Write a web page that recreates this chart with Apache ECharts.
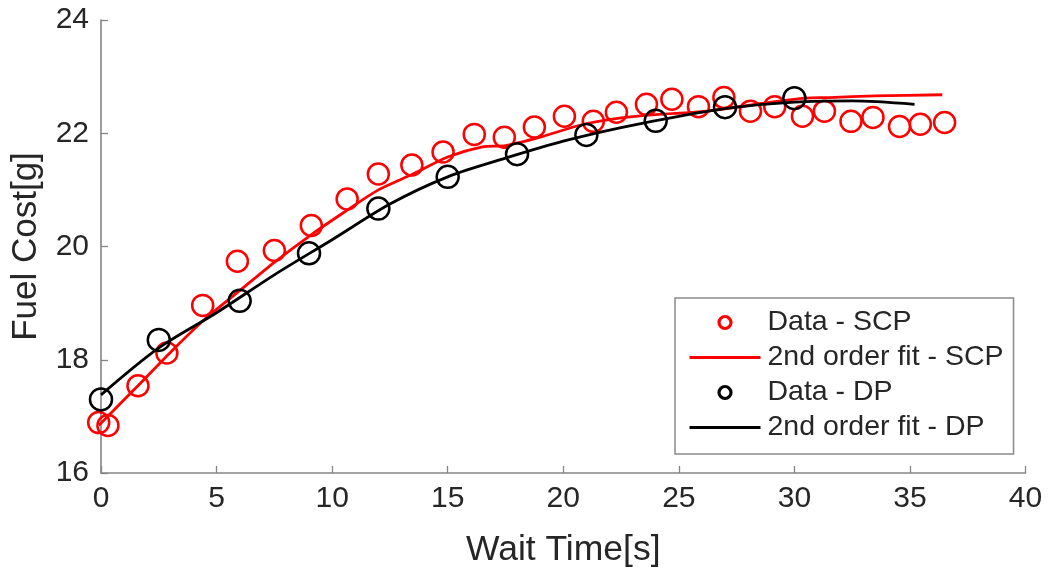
<!DOCTYPE html>
<html>
<head>
<meta charset="utf-8">
<script src="https://cdn.jsdelivr.net/npm/echarts@6/dist/echarts.min.js"></script>
<style>html,body{margin:0;padding:0;background:#fff;}#c{width:1049px;height:573px;}</style>
</head>
<body>
<div id="c"></div>
<script>
// Data - SCP (scatter)
var scpX = [-0.1, 0.3, 1.6, 2.85, 4.4, 5.9, 7.5, 9.1, 10.65, 12.0, 13.45, 14.8, 16.15, 17.45, 18.75, 20.05, 21.3, 22.3, 23.6, 24.7, 25.85, 26.95, 28.1, 29.15, 30.35, 31.3, 32.45, 33.4, 34.55, 35.45, 36.5];
var scpY = [16.89, 16.84, 17.54, 18.12, 18.96, 19.74, 19.93, 20.37, 20.84, 21.28, 21.44, 21.67, 21.98, 21.93, 22.11, 22.30, 22.21, 22.37, 22.51, 22.60, 22.47, 22.63, 22.39, 22.47, 22.30, 22.39, 22.21, 22.28, 22.12, 22.16, 22.19];
// 2nd order fit - SCP (line)
var scpFitX = [-0.1, 1.5, 3, 4.5, 6, 7.5, 9, 10.5, 12, 13.5, 15, 16.5, 17.5, 19, 20.8, 22.5, 24, 26, 27.5, 29, 30.5, 31.5, 33.5, 36.4];
var scpFitY = [16.84, 17.50, 18.13, 18.72, 19.22, 19.72, 20.18, 20.60, 21.00, 21.28, 21.58, 21.76, 21.78, 21.93, 22.15, 22.27, 22.33, 22.38, 22.46, 22.55, 22.62, 22.63, 22.66, 22.68];
// Data - DP (scatter)
var dpX = [0, 2.5, 6, 9, 12, 15, 18, 21, 24, 27, 30];
var dpY = [17.30, 18.35, 19.04, 19.88, 20.67, 21.23, 21.63, 21.97, 22.22, 22.46, 22.62];
// 2nd order fit - DP (line)
var dpFitX = [0, 2.5, 5, 7.5, 10, 12.5, 15, 17.5, 20, 22.5, 25, 27.5, 30, 32.5, 35.2];
var dpFitY = [17.38, 18.21, 18.83, 19.50, 20.12, 20.75, 21.23, 21.56, 21.86, 22.10, 22.30, 22.46, 22.55, 22.57, 22.51];

var seriesNames = ['Data - SCP', '2nd order fit - SCP', 'Data - DP', '2nd order fit - DP'];

function zip(xs, ys) { return xs.map(function (x, i) { return [x, ys[i]]; }); }

var FONT = 'Liberation Sans, Arial, Helvetica, sans-serif';
var TXT = '#262626';
var AX = '#858585';

var chart = echarts.init(document.getElementById('c'), null, { renderer: 'canvas' });
chart.setOption({
  backgroundColor: '#ffffff',
  animation: false,
  grid: { left: 101, right: 23.5, top: 20, bottom: 99, containLabel: false },
  xAxis: {
    type: 'value', min: 0, max: 40, interval: 5,
    name: 'Wait Time[s]', nameLocation: 'middle', nameGap: 59,
    nameTextStyle: { fontSize: 35.5, color: TXT, fontFamily: FONT },
    axisLine: { show: true, lineStyle: { color: AX, width: 1.6 } },
    axisTick: { show: true, inside: true, length: 7, lineStyle: { color: AX, width: 1.3 } },
    axisLabel: { fontSize: 30, color: TXT, fontFamily: FONT, margin: 11 },
    splitLine: { show: false }
  },
  yAxis: {
    type: 'value', min: 16, max: 24, interval: 2,
    name: 'Fuel Cost[g]', nameLocation: 'middle', nameGap: 57,
    nameTextStyle: { fontSize: 35, color: TXT, fontFamily: FONT },
    axisLine: { show: true, lineStyle: { color: AX, width: 1.6 } },
    axisTick: { show: true, inside: true, length: 7, lineStyle: { color: AX, width: 1.3 } },
    axisLabel: { fontSize: 30, color: TXT, fontFamily: FONT, margin: 12 },
    splitLine: { show: false }
  },
  legend: {
    orient: 'vertical', left: 675, top: 298,
    padding: [10, 10, 12, 13],
    backgroundColor: '#ffffff',
    borderColor: '#8a8a8a', borderWidth: 1.5, borderRadius: 0,
    itemWidth: 71, itemHeight: 12, itemGap: 6,
    textStyle: { fontSize: 28.5, color: TXT, fontFamily: FONT, padding: [0, 0, 0, 2] },
    data: [
      { name: seriesNames[0], itemStyle: { color: 'transparent', borderColor: '#ff0000', borderWidth: 3.2, opacity: 1 } },
      { name: seriesNames[1], itemStyle: { opacity: 0 }, lineStyle: { color: '#ff0000', width: 3 } },
      { name: seriesNames[2], itemStyle: { color: 'transparent', borderColor: '#000000', borderWidth: 3.2, opacity: 1 } },
      { name: seriesNames[3], itemStyle: { opacity: 0 }, lineStyle: { color: '#000000', width: 3 } }
    ]
  },
  series: [
    {
      name: seriesNames[0], type: 'scatter', data: zip(scpX, scpY), clip: false,
      symbol: 'circle', symbolSize: 21,
      itemStyle: { color: 'transparent', borderColor: '#ff0000', borderWidth: 2.5, opacity: 1 },
      z: 2
    },
    {
      name: seriesNames[1], type: 'line', data: zip(scpFitX, scpFitY), clip: false,
      symbol: 'none', smooth: 0.25, color: '#ff0000',
      lineStyle: { color: '#ff0000', width: 2.8 },
      z: 3
    },
    {
      name: seriesNames[2], type: 'scatter', data: zip(dpX, dpY), clip: false,
      symbol: 'circle', symbolSize: 22,
      itemStyle: { color: 'transparent', borderColor: '#000000', borderWidth: 2.5, opacity: 1 },
      z: 4
    },
    {
      name: seriesNames[3], type: 'line', data: zip(dpFitX, dpFitY),
      symbol: 'none', smooth: 0.3, color: '#000000',
      lineStyle: { color: '#000000', width: 2.8 },
      z: 5
    }
  ]
});
</script>
</body>
</html>
